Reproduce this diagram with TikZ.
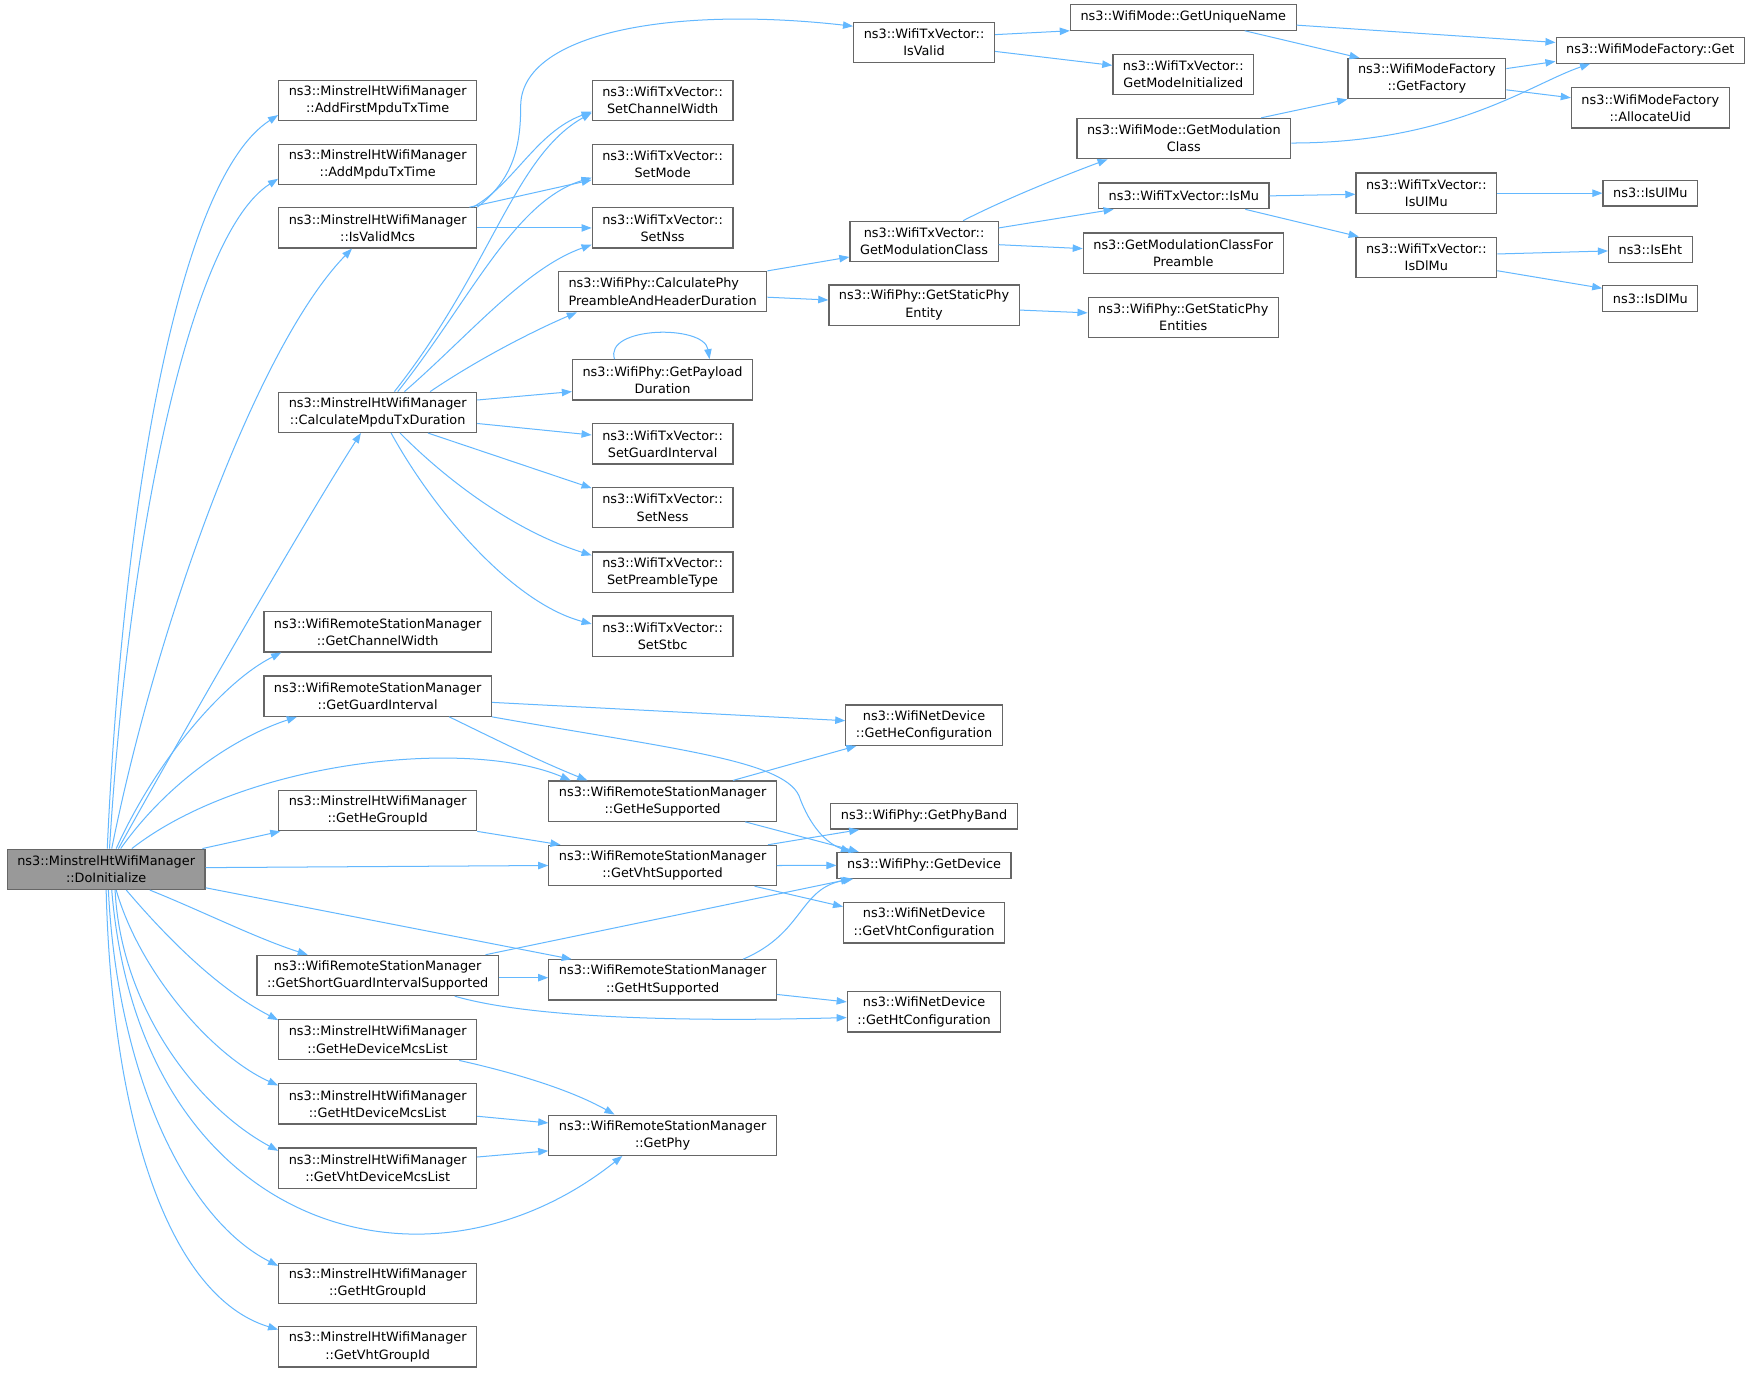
\documentclass[tikz,border=0pt]{standalone}
\usepackage{fontspec}
\setmainfont{DejaVu Sans}
\usetikzlibrary{arrows.meta}
\definecolor{edgeblue}{HTML}{63B8FF}
\definecolor{boxgray}{HTML}{666666}
\definecolor{focusgray}{HTML}{999999}
\newcommand{\fnfont}{\fontsize{11.5}{15.4}\selectfont}

\begin{document}
\begin{tikzpicture}[x=1pt,y=-1pt,
  fn/.style={draw=boxgray,line width=1.1pt,fill=white,inner xsep=9pt,inner ysep=1pt,
    minimum height=36pt,align=center,font=\fnfont},
  fn1/.style={fn,minimum height=23pt},
  focus/.style={fn,fill=focusgray},
  call/.style={draw=edgeblue,line width=0.9pt,->,>={Triangle[length=9pt,width=6.6pt]}}]
\useasboundingbox (0,0) rectangle (1568,1228);
\fill[white] (0,0) rectangle (1568,1228);

\node[focus] (root) at (95,778) {ns3::MinstrelHtWifiManager\\::DoInitialize};

\node[fn] (add1) at (338,90) {ns3::MinstrelHtWifiManager\\::AddFirstMpduTxTime};
\node[fn] (add2) at (338,147) {ns3::MinstrelHtWifiManager\\::AddMpduTxTime};
\node[fn] (valid) at (338,204) {ns3::MinstrelHtWifiManager\\::IsValidMcs};
\node[fn] (calc) at (338,369) {ns3::MinstrelHtWifiManager\\::CalculateMpduTxDuration};
\node[fn] (chw) at (338,565.5) {ns3::WifiRemoteStationManager\\::GetChannelWidth};
\node[fn] (gi) at (338,623) {ns3::WifiRemoteStationManager\\::GetGuardInterval};
\node[fn] (hegid) at (338,725.5) {ns3::MinstrelHtWifiManager\\::GetHeGroupId};
\node[fn] (sgi) at (338,873) {ns3::WifiRemoteStationManager\\::GetShortGuardIntervalSupported};
\node[fn] (hemcs) at (338,930.5) {ns3::MinstrelHtWifiManager\\::GetHeDeviceMcsList};
\node[fn] (htmcs) at (338,988) {ns3::MinstrelHtWifiManager\\::GetHtDeviceMcsList};
\node[fn] (vhtmcs) at (338,1045.5) {ns3::MinstrelHtWifiManager\\::GetVhtDeviceMcsList};
\node[fn] (htgid) at (338,1148.5) {ns3::MinstrelHtWifiManager\\::GetHtGroupId};
\node[fn] (vhtgid) at (338,1205.5) {ns3::MinstrelHtWifiManager\\::GetVhtGroupId};

\node[fn] (chwid) at (593,90) {ns3::WifiTxVector::\\SetChannelWidth};
\node[fn] (mode) at (593,147) {ns3::WifiTxVector::\\SetMode};
\node[fn] (nss) at (593,204) {ns3::WifiTxVector::\\SetNss};
\node[fn,align=left] (preamble) at (593,261) {ns3::WifiPhy::CalculatePhy\\PreambleAndHeaderDuration};
\node[fn] (payload) at (593,340) {ns3::WifiPhy::GetPayload\\Duration};
\node[fn] (gint) at (593,397.3) {ns3::WifiTxVector::\\SetGuardInterval};
\node[fn] (ness) at (593,454.4) {ns3::WifiTxVector::\\SetNess};
\node[fn] (ptype) at (593,512) {ns3::WifiTxVector::\\SetPreambleType};
\node[fn] (stbc) at (593,569.4) {ns3::WifiTxVector::\\SetStbc};
\node[fn] (hesup) at (593,717) {ns3::WifiRemoteStationManager\\::GetHeSupported};
\node[fn] (vhtsup) at (593,774.6) {ns3::WifiRemoteStationManager\\::GetVhtSupported};
\node[fn] (htsup) at (593,877) {ns3::WifiRemoteStationManager\\::GetHtSupported};
\node[fn] (phy) at (593,1016) {ns3::WifiRemoteStationManager\\::GetPhy};

\node[fn] (isvalid) at (827,38) {ns3::WifiTxVector::\\IsValid};
\node[fn] (txmodcls) at (827,216) {ns3::WifiTxVector::\\GetModulationClass};
\node[fn] (spe) at (827,273) {ns3::WifiPhy::GetStaticPhy\\Entity};
\node[fn] (heconf) at (827,649) {ns3::WifiNetDevice\\::GetHeConfiguration};
\node[fn1] (phyband) at (827,730.5) {ns3::WifiPhy::GetPhyBand};
\node[fn1] (device) at (827,774.5) {ns3::WifiPhy::GetDevice};
\node[fn] (vhtconf) at (827,826) {ns3::WifiNetDevice\\::GetVhtConfiguration};
\node[fn] (htconf) at (827,905.7) {ns3::WifiNetDevice\\::GetHtConfiguration};

\node[fn1] (uname) at (1059,15.5) {ns3::WifiMode::GetUniqueName};
\node[fn] (modeinit) at (1059,66.5) {ns3::WifiTxVector::\\GetModeInitialized};
\node[fn] (modcls) at (1059.5,124) {ns3::WifiMode::GetModulation\\Class};
\node[fn1] (ismu) at (1059.5,175.3) {ns3::WifiTxVector::IsMu};
\node[fn] (mcfp) at (1059,226.5) {ns3::GetModulationClassFor\\Preamble};
\node[fn] (spes) at (1059,284) {ns3::WifiPhy::GetStaticPhy\\Entities};

\node[fn] (factory) at (1277,70.4) {ns3::WifiModeFactory\\::GetFactory};
\node[fn] (ulmutx) at (1276.5,172.9) {ns3::WifiTxVector::\\IsUlMu};
\node[fn] (dlmutx) at (1276.5,230.3) {ns3::WifiTxVector::\\IsDlMu};

\node[fn1] (get) at (1477,45) {ns3::WifiModeFactory::Get};
\node[fn] (alloc) at (1477,96.5) {ns3::WifiModeFactory\\::AllocateUid};
\node[fn1] (isulmu) at (1477,172.9) {ns3::IsUlMu};
\node[fn1] (iseht) at (1477,223.1) {ns3::IsEht};
\node[fn1] (isdlmu) at (1477,267) {ns3::IsDlMu};

% calls of DoInitialize
\draw[call] ([xshift=1pt]root.north) .. controls (110,450) and (160,160) .. ([yshift=-13pt]add1.west);
\draw[call] ([xshift=3pt]root.north) .. controls (115,480) and (170,210) .. ([yshift=-13pt]add2.west);
\draw[call] ([xshift=5pt]root.north) .. controls (140,560) and (230,310) .. ([xshift=-23pt]valid.south);
\draw[call] ([xshift=11pt]root.north) .. controls (150,680) and (270,470) .. ([xshift=-15pt]calc.south);
\draw[call] ([xshift=9pt]root.north) .. controls (140,680) and (200,610) .. ([xshift=16pt]chw.south west);
\draw[call] ([xshift=13pt]root.north) .. controls (150,700) and (210,660) .. ([xshift=30pt]gi.south west);
\draw[call] ([xshift=23pt]root.north) .. controls (220,680) and (420,660) .. ([xshift=20pt]hesup.north west);
\draw[call] ([xshift=-3pt]root.north east) -- ([xshift=2pt]hegid.south west);
\draw[call] ([yshift=1.5pt]root.east) -- (vhtsup.west);
\draw[call] ([yshift=2pt]root.south east) -- ([xshift=21pt]htsup.north west);
\draw[call] ([xshift=39pt]root.south) .. controls (180,815) and (230,840) .. ([xshift=46pt]sgi.north west);
\draw[call] ([xshift=18pt]root.south) .. controls (150,840) and (195,885) .. ([yshift=-1pt]hemcs.north west);
\draw[call] ([xshift=9pt]root.south) .. controls (125,870) and (190,945) .. ([yshift=-2pt]htmcs.north west);
\draw[call] ([xshift=8pt]root.south) .. controls (108,900) and (175,990) .. ([yshift=-3pt]vhtmcs.north west);
\draw[call] ([xshift=5pt]root.south) .. controls (125,1100) and (380,1175) .. ([xshift=-36pt]phy.south);
\draw[call] ([xshift=2pt]root.south) .. controls (105,960) and (165,1090) .. ([yshift=-3pt]htgid.north west);
\draw[call] (root.south) .. controls (100,1000) and (150,1160) .. ([yshift=-3pt]vhtgid.north west);

% IsValidMcs and CalculateMpduTxDuration
\draw[call] (valid.north east) .. controls (460,160) and (466,130) .. (466,95)
  .. controls (466,30) and (600,5) .. ([yshift=-4pt]isvalid.north west);
\draw[call] ([xshift=-4pt]valid.north east) .. controls (460,165) and (480,118) .. ([yshift=-10pt]chwid.west);
\draw[call] ([xshift=-7pt]valid.north east) -- ([yshift=-14pt]mode.west);
\draw[call] (valid.east) -- (nss.west);
\draw[call] ([xshift=15pt]calc.north) .. controls (440,240) and (460,140) .. ([yshift=-11pt]chwid.west);
\draw[call] ([xshift=18pt]calc.north) .. controls (420,270) and (460,180) .. ([yshift=-12pt]mode.west);
\draw[call] ([xshift=24pt]calc.north) .. controls (420,300) and (470,240) .. ([yshift=-15pt]nss.west);
\draw[call] ([xshift=47pt]calc.north) .. controls (430,320) and (480,295) .. ([xshift=17pt]preamble.south west);
\draw[call] ([yshift=11pt]calc.east) -- ([yshift=-10.5pt]payload.west);
\draw[call] ([yshift=-10pt]calc.east) -- ([yshift=8pt]gint.west);
\draw[call] ([xshift=45pt]calc.south) -- ([yshift=-1pt]ness.north west);
\draw[call] ([xshift=20pt]calc.south) .. controls (400,430) and (460,475) .. ([yshift=15pt]ptype.west);
\draw[call] ([xshift=12pt]calc.south) .. controls (390,460) and (460,540) .. ([yshift=11pt]stbc.west);
\draw[call] ([xshift=-43pt]payload.north) .. controls (540,292) and (630,290) .. ([xshift=42pt]payload.north);

% WifiPhy and WifiTxVector
\draw[call] (preamble.north east) -- ([yshift=-14pt]txmodcls.west);
\draw[call] ([yshift=-5pt]preamble.east) -- ([yshift=4.5pt]spe.west);
\draw[call] ([xshift=35pt]txmodcls.north) .. controls (900,178) and (950,158) .. ([xshift=28pt]modcls.south west);
\draw[call] ([yshift=12pt]txmodcls.east) -- ([xshift=14pt]ismu.south west);
\draw[call] ([yshift=-3pt]txmodcls.east) -- ([yshift=4pt]mcfp.west);
\draw[call] ([yshift=-4.5pt]spe.east) -- ([yshift=4pt]spes.west);
\draw[call] ([yshift=7pt]isvalid.east) -- (uname.south west);
\draw[call] ([yshift=-8pt]isvalid.east) -- ([yshift=8pt]modeinit.west);
\draw[call] ([yshift=-7pt]uname.east) -- ([yshift=7pt]get.west);
\draw[call] ([xshift=55pt]uname.south) -- ([xshift=11pt]factory.north west);
\draw[call] ([yshift=9pt]factory.east) -- ([yshift=-10pt]get.west);
\draw[call] ([yshift=-10pt]factory.east) -- ([yshift=9pt]alloc.west);
\draw[call] ([xshift=-27pt]modcls.north east) -- (factory.south west);
\draw[call] ([yshift=-4pt]modcls.east) .. controls (1300,128) and (1370,75) .. ([xshift=31pt]get.south west);
\draw[call] (ismu.east) -- ([yshift=-1pt]ulmutx.west);
\draw[call] ([xshift=55pt]ismu.south) -- ([xshift=3pt]dlmutx.north west);
\draw[call] (ulmutx.east) -- (isulmu.west);
\draw[call] ([yshift=3pt]dlmutx.east) -- ([yshift=-1.5pt]iseht.west);
\draw[call] ([yshift=-12pt]dlmutx.east) -- ([yshift=9pt]isdlmu.west);

% station manager queries
\draw[call] ([yshift=-5.6pt]gi.east) -- ([yshift=4pt]heconf.west);
\draw[call] (gi.south east) .. controls (600,670) and (700,680) .. (715,712)
  .. controls (725,740) and (740,755) .. ([xshift=13pt]device.north west);
\draw[call] ([xshift=64pt]gi.south) .. controls (440,660) and (480,680) .. ([xshift=35pt]hesup.north west);
\draw[call] ([xshift=63pt]hesup.north) -- ([xshift=10pt]heconf.south west);
\draw[call] ([xshift=74pt]hesup.south) -- ([xshift=20pt]device.north west);
\draw[call] (hegid.south east) -- ([xshift=11pt]vhtsup.north west);
\draw[call] ([xshift=-8pt]vhtsup.north east) -- ([xshift=26pt]phyband.south west);
\draw[call] (vhtsup.east) -- (device.west);
\draw[call] ([xshift=-20pt]vhtsup.south east) -- ([yshift=-4pt]vhtconf.north west);
\draw[call] ([xshift=-12pt]sgi.north east) -- ([xshift=13pt]device.south west);
\draw[call] ([yshift=-2pt]sgi.east) -- ([yshift=2pt]htsup.west);
\draw[call] ([xshift=69pt]sgi.south) .. controls (470,910) and (600,915) .. ([yshift=-5pt]htconf.west);
\draw[call] ([xshift=72pt]htsup.north) .. controls (720,835) and (715,795) .. ([xshift=15pt]device.south west);
\draw[call] ([yshift=-13pt]htsup.east) -- ([yshift=9pt]htconf.west);
\draw[call] ([xshift=73pt]hemcs.south) .. controls (460,960) and (510,975) .. ([xshift=-43pt]phy.north);
\draw[call] ([yshift=-11pt]htmcs.east) -- ([yshift=11pt]phy.west);
\draw[call] ([yshift=10pt]vhtmcs.east) -- ([yshift=-14pt]phy.west);
\end{tikzpicture}
\end{document}
